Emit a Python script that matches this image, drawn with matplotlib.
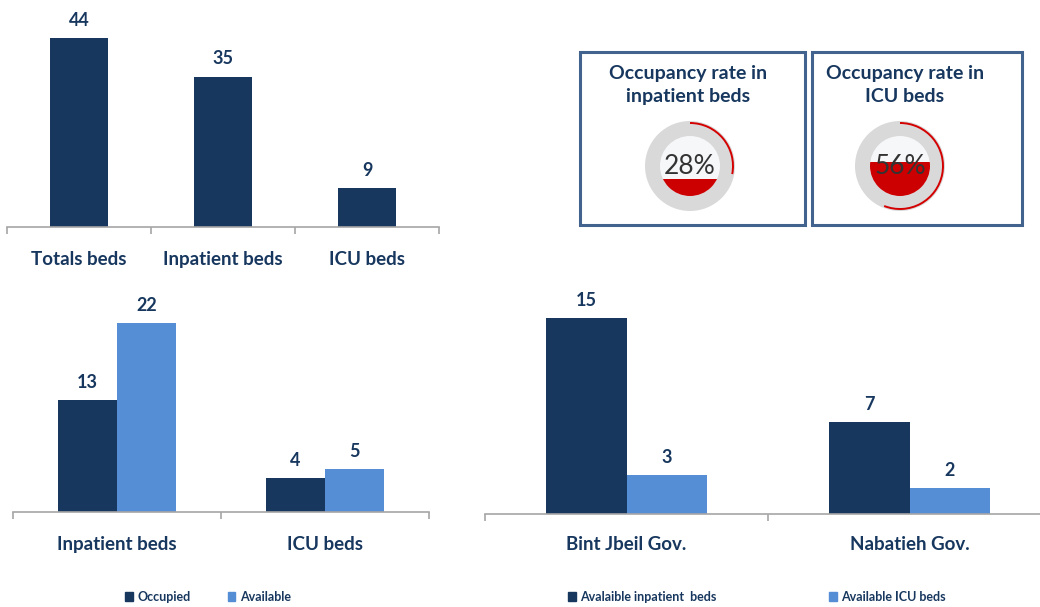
import matplotlib
matplotlib.use("Agg")
import matplotlib.pyplot as plt
from matplotlib.patches import Rectangle, Circle, Arc, Patch
import numpy as np

plt.rcParams['font.family'] = ['Lato', 'DejaVu Sans']

# ---------------- data ----------------
total_cats = ["Totals beds", "Inpatient beds", "ICU beds"]
total_vals = [44, 35, 9]

occ_cats = ["Inpatient beds", "ICU beds"]
occupied = [13, 4]
available = [22, 5]

gov_cats = ["Bint Jbeil Gov.", "Nabatieh Gov."]
avail_inpatient = [15, 7]
avail_icu = [3, 2]

gauge_titles = ["Occupancy rate in\ninpatient beds", "Occupancy rate in\nICU beds"]
gauge_pct = [28, 56]

legend1 = ["Occupied", "Available"]
legend2 = ["Avalaible inpatient  beds", "Available ICU beds"]

# ---------------- style ----------------
DARK = "#17375e"
LIGHT = "#558ed5"
TXT = "#17375e"
AXC = "#a6a6a6"
W, H = 1040, 607

fig = plt.figure(figsize=(W / 100, H / 100), dpi=100)


def px_axes(x0, x1, ybase, ytop):
    return fig.add_axes([x0 / W, 1 - ybase / H, (x1 - x0) / W, (ybase - ytop) / H])


def style(ax, ncat, pad):
    for s in ["top", "right", "left"]:
        ax.spines[s].set_visible(False)
    ax.spines["bottom"].set_color(AXC)
    ax.spines["bottom"].set_linewidth(1.2)
    ax.set_yticks([])
    ax.set_xlim(-0.5, ncat - 0.5)
    ax.set_xticks(np.arange(ncat))
    ax.set_xticks(np.arange(ncat + 1) - 0.5, minor=True)
    ax.tick_params(axis="x", which="major", length=0, pad=pad,
                   labelsize=13.5, labelcolor=TXT)
    ax.tick_params(axis="x", which="minor", length=5, color=AXC, width=1.2)
    for lab in ax.get_xticklabels():
        lab.set_fontweight("bold")
    ax.patch.set_alpha(0)


def label_bars(ax, bars):
    for b in bars:
        ax.annotate(f"{b.get_height():g}", (b.get_x() + b.get_width() / 2, b.get_height()),
                    xytext=(0, 6.5), textcoords="offset points", ha="center", va="bottom",
                    fontsize=13, fontweight="bold", color=TXT)


# chart 1: totals
ax1 = px_axes(7, 439, 227, 12)
x = np.arange(len(total_cats))
b = ax1.bar(x, total_vals, width=0.4, color=DARK)
ax1.set_ylim(0, 50)
ax1.set_xticklabels(total_cats)
style(ax1, len(total_cats), 17)
label_bars(ax1, b)

# chart 3: occupied / available
ax3 = px_axes(13, 429, 512, 297)
x = np.arange(len(occ_cats))
bw = 0.285
b1 = ax3.bar(x - bw / 2, occupied, width=bw, color=DARK)
b2 = ax3.bar(x + bw / 2, available, width=bw, color=LIGHT)
ax3.set_ylim(0, 25)
ax3.set_xticklabels(occ_cats)
style(ax3, len(occ_cats), 17)
label_bars(ax3, b1)
label_bars(ax3, b2)

# chart 4: governorates
ax4 = px_axes(485, 1051, 514, 298)
x = np.arange(len(gov_cats))
bw = 0.286
b1 = ax4.bar(x - bw / 2, avail_inpatient, width=bw, color=DARK)
b2 = ax4.bar(x + bw / 2, avail_icu, width=bw, color=LIGHT)
ax4.set_ylim(0, 16.5)
ax4.set_xticklabels(gov_cats)
style(ax4, len(gov_cats), 16)
label_bars(ax4, b1)
label_bars(ax4, b2)

# legends
fig.legend([Patch(color=DARK), Patch(color=LIGHT)], legend1, ncol=2, frameon=False,
           loc="center", bbox_to_anchor=(208 / W, 1 - 597 / H),
           handlelength=0.6, handleheight=0.8, handletextpad=0.35, columnspacing=3.0,
           prop={"size": 9, "weight": "bold"}, labelcolor=TXT)
fig.legend([Patch(color=DARK), Patch(color=LIGHT)], legend2, ncol=2, frameon=False,
           loc="center", bbox_to_anchor=(757 / W, 1 - 597 / H),
           handlelength=0.6, handleheight=0.8, handletextpad=0.35, columnspacing=9.0,
           prop={"size": 9, "weight": "bold"}, labelcolor=TXT)

# gauges (overlay in pixel coordinates)
ov = fig.add_axes([0, 0, 1, 1])
ov.set_xlim(0, W)
ov.set_ylim(0, H)
ov.axis("off")
ov.patch.set_alpha(0)

boxes = [(580, 52, 805, 225), (812, 52, 1022, 225)]
title_x = [688, 905]
gauge_cx = [690, 900]
gauge_cy = 166
R_out, R_in, R_arc = 45, 30, 43

for i, pct in enumerate(gauge_pct):
    x0, y0, x1, y1 = boxes[i]
    ov.add_patch(Rectangle((x0, H - y1), x1 - x0, y1 - y0, fill=False,
                           edgecolor="#41638e", linewidth=2.2))
    ov.text(title_x[i], H - 85, gauge_titles[i], ha="center", va="center",
            fontsize=14, fontweight="bold", color=TXT, linespacing=1.4)
    cx, cy = gauge_cx[i], H - gauge_cy
    ov.add_patch(Circle((cx, cy), R_out, color="#d9d9d9", lw=0))
    inner = Circle((cx, cy), R_in, color="#f6f7f9", lw=0)
    ov.add_patch(inner)
    fill = Rectangle((cx - R_in, cy - R_in), 2 * R_in, 2 * R_in * pct / 100,
                     color="#cc0000", lw=0)
    ov.add_patch(fill)
    fill.set_clip_path(inner)
    ov.add_patch(Arc((cx, cy), 2 * R_arc, 2 * R_arc, theta1=90 - 360 * pct / 100,
                     theta2=90, color="#d40000", lw=1.4))
    ov.text(cx, cy - 1, f"{pct}%", ha="center", va="center", fontsize=19,
            color="#333333")

fig.savefig("out.png", dpi=100)
